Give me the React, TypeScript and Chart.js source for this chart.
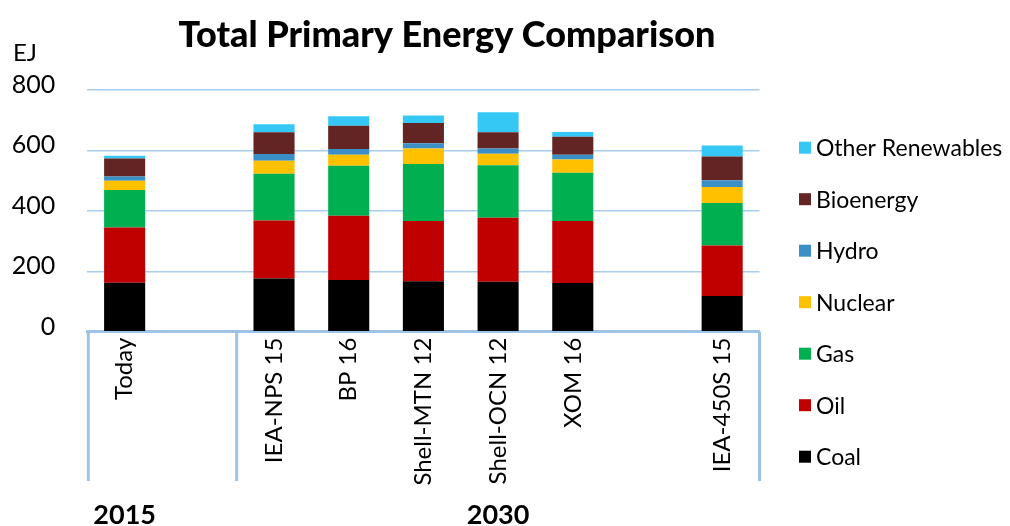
import React, { useEffect, useRef } from 'react';
import { Chart, registerables } from 'chart.js';

Chart.register(...registerables);

// ---- data ----
const categories = ['Today', '', 'IEA-NPS 15', 'BP 16', 'Shell-MTN 12', 'Shell-OCN 12', 'XOM 16', '', 'IEA-450S 15'];
const coal = [162, null, 176, 171, 167, 165, 161, null, 118];
const oil = [183, null, 192, 213, 199, 212, 205, null, 167];
const gas = [124, null, 155, 165, 189, 174, 160, null, 141];
const nuclear = [31, null, 43, 37, 51, 38, 44, null, 53];
const hydro = [14, null, 22, 19, 18, 17, 16, null, 22];
const bioenergy = [59, null, 72, 77, 67, 54, 59, null, 79];
const otherRenewables = [9, null, 27, 31, 25, 66, 16, null, 36];

const seriesNames = ['Coal', 'Oil', 'Gas', 'Nuclear', 'Hydro', 'Bioenergy', 'Other Renewables'];
const seriesValues = [coal, oil, gas, nuclear, hydro, bioenergy, otherRenewables];
const seriesColors = ['#000000', '#C00000', '#00B050', '#FFC000', '#3A8FC6', '#632523', '#35C8F5'];

const yTicks = [0, 200, 400, 600, 800];
const groupLabels = ['2015', '2030'];
const groupStart = [0, 2];
const groupEnd = [0, 8];
const separatorAfter = [1]; // separator between category 1 and 2

const titleText = 'Total Primary Energy Comparison';
const unitText = 'EJ';

const FONT = 'Lato, "Noto Sans", sans-serif';
const AXIS_COLOR = '#9DC3E6';
const GRID_COLOR = '#A9CDEE';

export default function App() {
  const ref = useRef<HTMLCanvasElement>(null);

  useEffect(() => {
    const canvas = ref.current;
    if (!canvas) return;

    const decor = {
      id: 'decor',
      afterDraw(chart: any) {
        const { ctx, chartArea, scales } = chart;
        const xs = scales.x;
        ctx.save();

        // multi-level axis lines
        ctx.strokeStyle = AXIS_COLOR;
        ctx.lineWidth = 3;
        const lineBottom = 481;
        const sepXs = [chartArea.left + 1, chartArea.right];
        separatorAfter.forEach((i) => {
          sepXs.push((xs.getPixelForValue(i) + xs.getPixelForValue(i + 1)) / 2);
        });
        sepXs.forEach((px) => {
          ctx.beginPath();
          ctx.moveTo(px, chartArea.bottom);
          ctx.lineTo(px, lineBottom);
          ctx.stroke();
        });

        // group labels
        ctx.fillStyle = '#000';
        ctx.font = 'bold 27px "Liberation Sans Narrow", Lato, sans-serif';
        ctx.textAlign = 'center';
        ctx.textBaseline = 'middle';
        groupLabels.forEach((g, i) => {
          const gx = (xs.getPixelForValue(groupStart[i]) + xs.getPixelForValue(groupEnd[i])) / 2;
          ctx.fillText(g, gx, 515);
        });

        // title
        ctx.font = '900 36px ' + FONT;
        ctx.textAlign = 'center';
        ctx.textBaseline = 'alphabetic';
        ctx.fillText(titleText, 447, 47);

        // unit
        ctx.font = '24px ' + FONT;
        ctx.textAlign = 'left';
        ctx.fillText(unitText, 13, 61);

        // legend
        const legendX = 799;
        const legendTop = 147.7;
        const legendStep = 51.5;
        const box = 12;
        ctx.font = '23px ' + FONT;
        ctx.textBaseline = 'middle';
        const ds = chart.data.datasets;
        for (let k = 0; k < ds.length; k++) {
          const d = ds[ds.length - 1 - k];
          const cy = legendTop + k * legendStep;
          ctx.fillStyle = d.backgroundColor;
          ctx.fillRect(legendX, cy - box / 2, box, box);
          ctx.fillStyle = '#000';
          ctx.fillText(d.label, legendX + box + 5, cy + 1);
        }
        ctx.restore();
      },
    };

    const chart = new Chart(canvas, {
      type: 'bar',
      data: {
        labels: categories,
        datasets: seriesNames.map((name, i) => ({
          label: name,
          data: seriesValues[i],
          backgroundColor: seriesColors[i],
          borderWidth: 0,
          barPercentage: 0.55,
          categoryPercentage: 1,
        })),
      },
      options: {
        responsive: false,
        animation: false,
        layout: { padding: { left: 0, top: 90, right: 250.5, bottom: 0 } },
        plugins: {
          legend: { display: false },
          title: { display: false },
          tooltip: { enabled: false },
        },
        scales: {
          x: {
            stacked: true,
            grid: { display: false, drawTicks: false },
            border: { display: true, color: AXIS_COLOR, width: 3 },
            ticks: {
              autoSkip: false,
              minRotation: 90,
              maxRotation: 90,
              padding: 6,
              color: '#000',
              font: { family: FONT, size: 24 },
            },
            afterFit: (scale: any) => {
              scale.height = 194.3;
            },
          },
          y: {
            stacked: true,
            min: 0,
            max: 800,
            afterBuildTicks: (scale: any) => {
              scale.ticks = yTicks.map((v) => ({ value: v }));
            },
            grid: { color: GRID_COLOR, lineWidth: 1.5, drawTicks: false },
            border: { display: false },
            ticks: {
              padding: 32,
              labelOffset: -5,
              color: '#000',
              font: { family: FONT, size: 25 },
            },
            afterFit: (scale: any) => {
              scale.width = 87.3;
            },
          },
        },
      },
      plugins: [decor],
    });

    return () => chart.destroy();
  }, []);

  return (
    <canvas
      ref={ref}
      width={1010}
      height={526}
      style={{ position: 'absolute', left: 0, top: 0, display: 'block' }}
    />
  );
}
